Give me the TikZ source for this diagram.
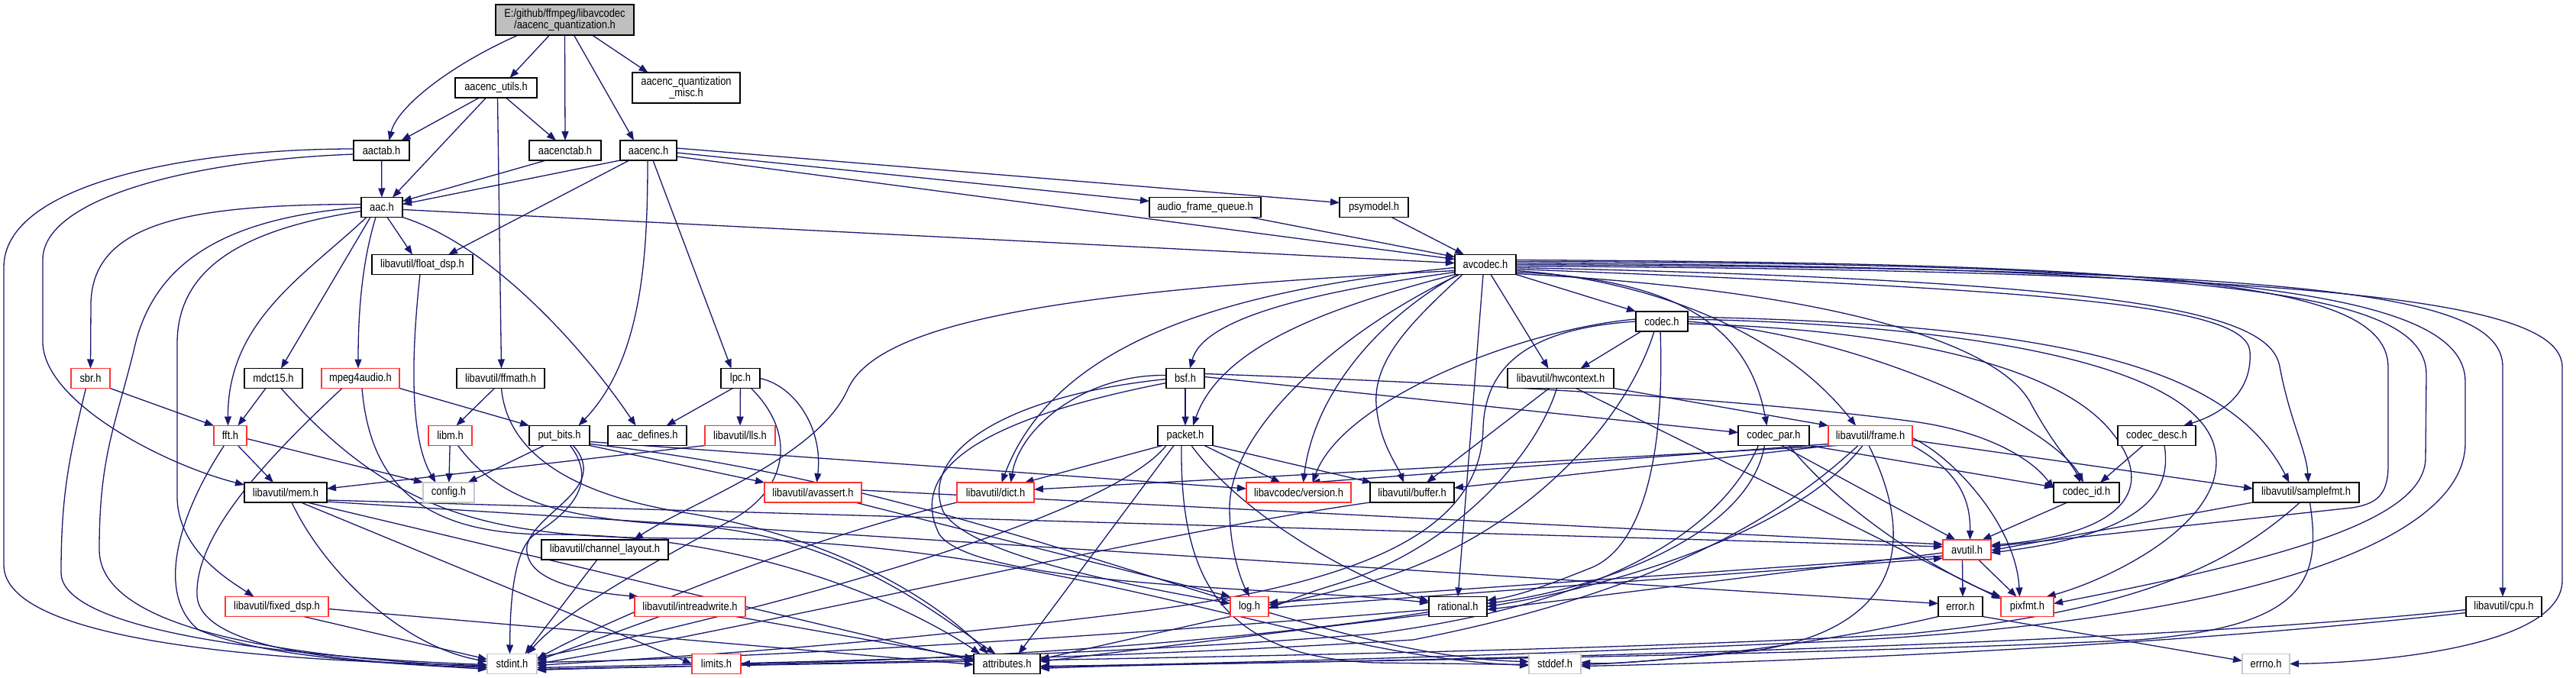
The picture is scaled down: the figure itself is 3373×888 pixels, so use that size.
\documentclass[tikz,border=0pt]{standalone}
\usepackage{fontspec}
\setmainfont{Liberation Sans}
\newfontfamily\narrowfont{Liberation Sans}[FakeStretch=0.86]
\usetikzlibrary{arrows.meta,backgrounds}
\definecolor{edgec}{HTML}{191970}
\definecolor{nred}{HTML}{FF3333}
\definecolor{ngray}{HTML}{C8C8C8}
\definecolor{rootg}{HTML}{BFBFBF}
\tikzset{
  nb/.style={rectangle, draw=black, line width=1.5pt, fill=white, minimum height=26pt, inner sep=0pt, outer sep=0pt, font=\narrowfont\fontsize{15pt}{15pt}\selectfont, text=black},
  nr/.style={nb, draw=nred},
  ng/.style={nb, draw=ngray},
  e/.style={draw=edgec, line width=1.3pt, -{Triangle[length=12pt,width=9pt]}}
}
\begin{document}
\begin{tikzpicture}[x=1pt,y=1pt]
\useasboundingbox (0,-888) rectangle (3373,0);
% nodes
\node[nb,minimum width=181pt,minimum height=40pt,fill=rootg,align=center] (root) at (739.5,-26) {E:/github/ffmpeg/libavcodec\\/aacenc\_quantization.h};
\node[nb,minimum width=107pt] (autils) at (649.5,-115) {aacenc\_utils.h};
\node[nb,minimum width=141pt,minimum height=40pt,align=center] (aqmisc) at (898.5,-115) {aacenc\_quantization\\\_misc.h};
\node[nb,minimum width=73pt] (aactab) at (499.5,-197) {aactab.h};
\node[nb,minimum width=94pt] (aenctab) at (740,-197) {aacenctab.h};
\node[nb,minimum width=74pt] (aacenc) at (849,-197) {aacenc.h};
\node[nb,minimum width=54pt] (aac) at (500,-271.5) {aac.h};
\node[nb,minimum width=146pt] (afq) at (1578,-271.5) {audio\_frame\_queue.h};
\node[nb,minimum width=90pt] (psy) at (1799,-271.5) {psymodel.h};
\node[nb,minimum width=132pt] (fdsp) at (553,-346.5) {libavutil/float\_dsp.h};
\node[nb,minimum width=80pt] (avc) at (1945,-346.5) {avcodec.h};
\node[nb,minimum width=68pt] (codec) at (2176,-421) {codec.h};
\node[nr,minimum width=51pt] (sbr) at (118.5,-495.5) {sbr.h};
\node[nb,minimum width=76pt] (mdct) at (358,-495.5) {mdct15.h};
\node[nr,minimum width=102pt] (mp4a) at (472,-495.5) {mpeg4audio.h};
\node[nb,minimum width=115pt] (ffmath) at (655.5,-495.5) {libavutil/ffmath.h};
\node[nb,minimum width=51pt] (lpc) at (969.5,-495.5) {lpc.h};
\node[nb,minimum width=50pt] (bsf) at (1552,-495.5) {bsf.h};
\node[nb,minimum width=139pt] (hwc) at (2043.5,-495.5) {libavutil/hwcontext.h};
\node[nr,minimum width=43pt] (fft) at (301.5,-570.5) {fft.h};
\node[nr,minimum width=57pt] (libm) at (589.5,-570.5) {libm.h};
\node[nb,minimum width=79pt] (pbits) at (732.5,-570.5) {put\_bits.h};
\node[nb,minimum width=103pt] (aacdef) at (847.5,-570.5) {aac\_defines.h};
\node[nr,minimum width=92pt] (lls) at (969,-570.5) {libavutil/lls.h};
\node[nb,minimum width=72pt] (packet) at (1552,-570.5) {packet.h};
\node[nb,minimum width=93pt] (cpar) at (2322.5,-570.5) {codec\_par.h};
\node[nr,minimum width=110pt] (frame) at (2449,-570.5) {libavutil/frame.h};
\node[nb,minimum width=102pt] (cdesc) at (2824,-570.5) {codec\_desc.h};
\node[nb,minimum width=108pt] (mem) at (374,-645) {libavutil/mem.h};
\node[ng,minimum width=67pt] (config) at (587.5,-645) {config.h};
\node[nr,minimum width=127pt] (avassert) at (1064.5,-645) {libavutil/avassert.h};
\node[nr,minimum width=101pt] (dict) at (1303.5,-645) {libavutil/dict.h};
\node[nr,minimum width=137pt] (version) at (1700.5,-645) {libavcodec/version.h};
\node[nb,minimum width=110pt] (buffer) at (1849,-645) {libavutil/buffer.h};
\node[nb,minimum width=86pt] (cid) at (2732,-645) {codec\_id.h};
\node[nb,minimum width=139pt] (sfmt) at (3019.5,-645) {libavutil/samplefmt.h};
\node[nb,minimum width=166pt] (chl) at (792,-720) {libavutil/channel\_layout.h};
\node[nr,minimum width=63pt] (avutil) at (2575.5,-720) {avutil.h};
\node[nr,minimum width=135pt] (fxdsp) at (362.5,-794.5) {libavutil/fixed\_dsp.h};
\node[nr,minimum width=145pt] (irw) at (903.5,-794.5) {libavutil/intreadwrite.h};
\node[nr,minimum width=50pt] (log) at (1636,-794.5) {log.h};
\node[nb,minimum width=76pt] (rational) at (1909,-794.5) {rational.h};
\node[nb,minimum width=58pt] (error) at (2567,-794.5) {error.h};
\node[nr,minimum width=69pt] (pixfmt) at (2654.5,-794.5) {pixfmt.h};
\node[nb,minimum width=99pt] (cpu) at (3278.5,-794.5) {libavutil/cpu.h};
\node[ng,minimum width=65pt] (stdint) at (670.5,-869.5) {stdint.h};
\node[nr,minimum width=64pt] (limits) at (938,-869.5) {limits.h};
\node[nb,minimum width=87pt] (attr) at (1318.5,-869.5) {attributes.h};
\node[ng,minimum width=68pt] (stddef) at (2036,-869.5) {stddef.h};
\node[ng,minimum width=62pt] (errno) at (2967,-869.5) {errno.h};

\begin{pgfonlayer}{background}
\fill[white] (0,-888) rectangle (3373,0);
% root
\draw[e] ([xshift=-61pt]root.south) .. controls (590,-85) and (520,-140) .. ([xshift=10pt]aactab.north);
\draw[e] ([xshift=-20pt]root.south) -- ([xshift=18pt]autils.north);
\draw[e] (root.south) -- (aenctab.north);
\draw[e] ([xshift=12pt]root.south) -- ([xshift=-19pt]aacenc.north);
\draw[e] ([xshift=36pt]root.south) -- ([xshift=-50pt]aqmisc.north);
% aacenc_utils
\draw[e] ([xshift=-22pt]autils.south) -- ([xshift=26pt]aactab.north);
\draw[e] ([xshift=-13pt]autils.south) -- ([xshift=14pt]aac.north);
\draw[e] ([xshift=13pt]autils.south) -- ([xshift=-12pt]aenctab.north);
\draw[e] ([xshift=2pt]autils.south) -- ([xshift=1pt]ffmath.north);
% aactab
\draw[e] (aactab) -- (aac);
\draw[e] ([yshift=2pt]aactab.west) .. controls (250,-195) and (5,-240) .. (5,-350) -- (5,-740) .. controls (5,-840) and (350,-866) .. ([yshift=-2pt]stdint.west);
\draw[e] ([yshift=-5pt]aactab.west) .. controls (250,-210) and (56,-260) .. (56,-340) -- (56,-450) .. controls (60,-530) and (220,-610) .. ([yshift=10pt]mem.west);
% aacenctab
\draw[e] ([xshift=-25pt]aenctab.south) -- ([yshift=8pt]aac.east);
% aacenc
\draw[e] (aacenc.south west) -- ([yshift=4pt]aac.east);
\draw[e] ([xshift=-25pt]aacenc.south) -- ([xshift=34pt]fdsp.north);
\draw[e] ([yshift=-3pt]aacenc.east) -- ([yshift=8pt]afq.west);
\draw[e] ([yshift=3pt]aacenc.east) -- ([yshift=6pt]psy.west);
\draw[e] ([yshift=-8pt]aacenc.east) -- ([yshift=7pt]avc.west);
\draw[e] ([xshift=6pt]aacenc.south) -- ([xshift=-12pt]lpc.north);
\draw[e] ([xshift=-1pt]aacenc.south) .. controls (848,-330) and (842,-470) .. ([xshift=25pt]pbits.north);
% aac
\draw[e] ([yshift=-3pt]aac.east) -- ([yshift=2pt]avc.west);
\draw[e] ([xshift=7pt]aac.south) -- ([xshift=-13pt]fdsp.north);
\draw[e] ([yshift=4pt]aac.west) .. controls (250,-268) and (119,-290) .. (119,-400) -- (sbr.north);
\draw[e] (aac.west) .. controls (300,-285) and (200,-340) .. (175,-460) .. controls (150,-560) and (130,-600) .. (130,-720) .. controls (130,-830) and (400,-862) .. ([yshift=-4pt]stdint.west);
\draw[e] ([yshift=-5pt]aac.west) .. controls (320,-300) and (232,-350) .. (232,-450) -- (232,-650) .. controls (232,-720) and (300,-760) .. ([xshift=-30pt]fxdsp.north);
\draw[e] ([xshift=-20pt]aac.south) .. controls (400,-360) and (298,-420) .. ([xshift=-3pt]fft.north);
\draw[e] ([xshift=-15pt]aac.south) -- ([xshift=10pt]mdct.north);
\draw[e] ([xshift=-8pt]aac.south) .. controls (472,-350) and (469,-420) .. ([xshift=-3pt]mp4a.north);
\draw[e] (aac.south east) .. controls (640,-320) and (760,-450) .. ([xshift=-15pt]aacdef.north);
% float_dsp
\draw[e] ([xshift=-3pt]fdsp.south) .. controls (540,-450) and (534,-570) .. ([xshift=-17pt]config.north);
% sbr
\draw[e] (sbr.south east) -- (fft.north west);
\draw[e] ([xshift=-6pt]sbr.south) .. controls (90,-600) and (80,-650) .. (80,-750) .. controls (80,-830) and (400,-862) .. ([yshift=-1pt]stdint.west);
% mdct15
\draw[e] ([xshift=-10pt]mdct.south) -- ([xshift=10pt]fft.north);
\draw[e] ([xshift=10pt]mdct.south) .. controls (520,-680) and (650,-705) .. (900,-705) .. controls (1400,-705) and (1700,-860) .. ([yshift=-2pt]stddef.west);
% mpeg4audio
\draw[e] (mp4a.south east) -- (pbits.north west);
\draw[e] ([xshift=-24pt]mp4a.south) .. controls (350,-600) and (255,-700) .. (258,-780) .. controls (262,-850) and (450,-868) .. ([yshift=-5pt]stdint.west);
\draw[e] ([xshift=2pt]mp4a.south) .. controls (485,-640) and (560,-700) .. (720,-700) .. controls (1000,-700) and (1200,-800) .. ([xshift=-35pt]attr.north);
% ffmath
\draw[e] ([xshift=-8pt]ffmath.south) -- ([xshift=8pt]libm.north);
\draw[e] ([xshift=1pt]ffmath.south) .. controls (665,-600) and (760,-650) .. (900,-672) .. controls (1100,-705) and (1230,-790) .. ([xshift=-25pt]attr.north);
% libm
\draw[e] (libm) -- (config);
\draw[e] ([xshift=10pt]libm.south) .. controls (650,-650) and (720,-680) .. (900,-688) .. controls (1100,-700) and (1220,-800) .. ([xshift=-15pt]attr.north);
% fft
\draw[e] ([yshift=-4pt]fft.east) -- (config.north west);
\draw[e] ([xshift=10pt]fft.south) -- ([xshift=-16pt]mem.north);
\draw[e] ([xshift=-8pt]fft.south) .. controls (230,-680) and (205,-780) .. (260,-825) .. controls (350,-862) and (500,-868) .. ([yshift=-7pt]stdint.west);
% put_bits
\draw[e] ([xshift=-20pt]pbits.south) -- ([xshift=25pt]config.north);
\draw[e] ([xshift=14pt]pbits.south) .. controls (790,-640) and (730,-680) .. (700,-700) .. controls (672,-720) and (668,-790) .. ([xshift=-3pt]stdint.north);
\draw[e] ([xshift=18pt]pbits.south) .. controls (800,-640) and (700,-670) .. (690,-715) .. controls (685,-760) and (760,-775) .. ([xshift=5pt]irw.north west);
\draw[e] (pbits.south east) -- (avassert.north west);
\draw[e] ([yshift=-8pt]pbits.east) -- ([yshift=5pt]version.west);
\draw[e] ([yshift=-11pt]pbits.east) .. controls (1300,-640) and (1700,-860) .. ([yshift=3pt]stddef.west);
% lpc
\draw[e] ([xshift=-10pt]lpc.south) -- ([xshift=25pt]aacdef.north);
\draw[e] (lpc) -- (lls);
\draw[e] (lpc.east) .. controls (1040,-505) and (1078,-560) .. ([xshift=5pt]avassert.north);
\draw[e] ([xshift=14pt]lpc.south) .. controls (1045,-570) and (1030,-640) .. (960,-680) .. controls (850,-740) and (740,-800) .. ([xshift=20pt]stdint.north);
% lls
\draw[e] (lls.south west) -- ([yshift=5pt]mem.east);
% mem
\draw[e] ([yshift=-10pt]mem.east) -- ([yshift=4pt]avutil.west);
\draw[e] ([yshift=-12pt]mem.east) -- ([yshift=4pt]error.west);
\draw[e] ([xshift=8pt]mem.south) .. controls (420,-740) and (520,-845) .. ([yshift=3pt]stdint.west);
\draw[e] ([xshift=20pt]mem.south) -- (limits.west);
\draw[e] ([xshift=28pt]mem.south) -- ([yshift=4pt]attr.west);
% avassert
\draw[e] ([yshift=3pt]avassert.east) -- ([yshift=7pt]avutil.west);
\draw[e] ([xshift=55pt]avassert.south) -- (log.north west);
% dict
\draw[e] (dict.south west) .. controls (1000,-720) and (760,-830) .. ([yshift=6pt]stdint.east);
% channel_layout
\draw[e] ([xshift=-10pt]chl.south) -- ([xshift=17pt]stdint.north);
% fixed_dsp
\draw[e] ([xshift=35pt]fxdsp.south) -- ([yshift=6pt]stdint.west);
\draw[e] ([yshift=-3pt]fxdsp.east) -- ([yshift=-1pt]attr.west);
% intreadwrite
\draw[e] ([xshift=-40pt]irw.south) -- ([yshift=4pt]stdint.east);
\draw[e] ([xshift=60pt]irw.south) -- ([yshift=7pt]attr.west);
% afq, psymodel
\draw[e] ([xshift=-14pt]afq.south east) -- ([yshift=10pt]avc.west);
\draw[e] ([xshift=23pt]psy.south) -- ([xshift=-28pt]avc.north);
% avcodec
\draw[e] (avc.south east) -- (codec.north west);
\draw[e] ([xshift=7pt]avc.south) -- ([xshift=-16pt]hwc.north);
\draw[e] ([xshift=-3pt]avc.south) -- (rational.north);
\draw[e] ([xshift=-30pt]avc.south) .. controls (1850,-420) and (1798,-470) .. (1802,-530) .. controls (1806,-580) and (1830,-610) .. ([xshift=-11pt]buffer.north);
\draw[e] ([xshift=-36pt]avc.south) .. controls (1800,-420) and (1720,-520) .. ([xshift=6pt]version.north);
\draw[e] ([yshift=-4pt]avc.west) .. controls (1600,-380) and (1380,-450) .. ([xshift=8pt]dict.north);
\draw[e] ([yshift=-8pt]avc.west) .. controls (1400,-380) and (1150,-420) .. (1110,-510) .. controls (1070,-600) and (900,-660) .. ([xshift=38pt]chl.north);
\draw[e] (avc.south west) .. controls (1750,-400) and (1600,-450) .. ([xshift=10pt]packet.north);
\draw[e] ([yshift=-10pt]avc.west) .. controls (1700,-385) and (1575,-420) .. ([xshift=6pt]bsf.north);
\draw[e] ([xshift=-34pt]avc.south) .. controls (1760,-430) and (1610,-560) .. (1610,-665) .. controls (1610,-720) and (1625,-760) .. (log.north);
\draw[e] ([yshift=4pt]avc.east) .. controls (2900,-345) and (3228,-380) .. (3228,-500) -- (3228,-580) .. controls (3228,-720) and (2900,-815) .. (2400,-840) .. controls (1900,-862) and (1600,-868) .. ([yshift=-4pt]attr.east);
\draw[e] ([yshift=6pt]avc.east) .. controls (2850,-345) and (3125,-370) .. (3127,-480) -- (3127,-610) .. controls (3127,-650) and (3110,-660) .. (3080,-665) -- ([yshift=4pt]avutil.east);
\draw[e] ([yshift=2pt]avc.east) .. controls (2900,-350) and (3176,-380) .. (3177,-490) -- (3176,-600) .. controls (3175,-680) and (3000,-730) .. ([yshift=4pt]pixfmt.east);
\draw[e] (avc.east) .. controls (3000,-352) and (3276,-380) .. (3277,-480) -- ([xshift=-1.5pt]cpu.north);
\draw[e] ([yshift=-2pt]avc.east) .. controls (3100,-355) and (3352,-400) .. (3355,-480) -- (3355,-760) .. controls (3355,-850) and (3100,-868) .. (errno.east);
\draw[e] ([yshift=-4pt]avc.east) .. controls (2800,-368) and (2972,-410) .. (2985,-480) .. controls (2998,-550) and (3020,-590) .. ([xshift=3pt]sfmt.north);
\draw[e] ([yshift=-6pt]avc.east) .. controls (2700,-380) and (2940,-400) .. (2946,-460) .. controls (2950,-520) and (2900,-545) .. ([xshift=35pt]cdesc.north);
\draw[e] ([yshift=-8pt]avc.east) .. controls (2150,-365) and (2330,-430) .. ([xshift=-19pt]frame.north);
\draw[e] ([yshift=-10pt]avc.east) .. controls (2200,-365) and (2290,-430) .. ([xshift=-9pt]cpar.north);
\draw[e] ([yshift=-12pt]avc.east) .. controls (2400,-380) and (2620,-450) .. (2660,-530) .. controls (2690,-585) and (2715,-610) .. ([xshift=-8pt]cid.north);
% codec
\draw[e] ([xshift=-27pt]codec.south) -- ([xshift=26pt]hwc.north);
\draw[e] ([yshift=3pt]codec.west) .. controls (2000,-430) and (1760,-520) .. ([xshift=18pt]version.north);
\draw[e] (codec.west) .. controls (2000,-430) and (1945,-480) .. (1942,-560) .. controls (1940,-690) and (1800,-760) .. (1500,-800) .. controls (1100,-850) and (850,-862) .. ([yshift=-2pt]stdint.east);
\draw[e] ([xshift=-10pt]codec.south) .. controls (2130,-550) and (2000,-700) .. (1800,-760) .. controls (1720,-782) and (1690,-788) .. ([yshift=2pt]log.east);
\draw[e] ([xshift=-2pt]codec.south) .. controls (2180,-600) and (2150,-720) .. (2080,-745) .. controls (2030,-765) and (1990,-780) .. ([yshift=8pt]rational.east);
\draw[e] ([yshift=-3pt]codec.east) .. controls (2450,-430) and (2680,-470) .. (2760,-560) .. controls (2830,-640) and (2780,-700) .. ([yshift=6pt]avutil.east);
\draw[e] ([yshift=3pt]codec.east) .. controls (2550,-425) and (2860,-470) .. (2898,-580) .. controls (2930,-680) and (2760,-760) .. ([xshift=25pt]pixfmt.north);
\draw[e] ([yshift=6pt]codec.east) .. controls (2700,-425) and (2920,-480) .. ([xshift=-22pt]sfmt.north);
\draw[e] (codec.east) .. controls (2450,-440) and (2690,-560) .. ([xshift=-4pt]cid.north);
% bsf
\draw[e] (bsf) -- (packet);
\draw[e] ([yshift=2pt]bsf.east) -- ([yshift=4pt]cpar.west);
\draw[e] ([yshift=6pt]bsf.east) .. controls (2000,-505) and (2300,-525) .. (2505,-552) .. controls (2600,-565) and (2660,-600) .. ([yshift=5pt]cid.west);
\draw[e] ([yshift=4pt]bsf.west) .. controls (1420,-490) and (1335,-560) .. ([xshift=20pt]dict.north);
\draw[e] ([yshift=-1pt]bsf.west) .. controls (1300,-520) and (1205,-600) .. (1235,-670) .. controls (1270,-730) and (1500,-770) .. ([yshift=4pt]log.west);
\draw[e] ([yshift=-6pt]bsf.west) .. controls (1330,-540) and (1180,-600) .. (1230,-700) .. controls (1280,-770) and (1700,-770) .. ([yshift=5pt]rational.west);
% packet
\draw[e] ([xshift=-30pt]packet.south) -- ([xshift=38pt]dict.north);
\draw[e] ([xshift=25pt]packet.south) -- ([xshift=-24pt]version.north);
\draw[e] (packet.south east) -- ([xshift=2pt]buffer.north west);
\draw[e] ([xshift=-15pt]packet.south) -- ([xshift=15pt]attr.north);
\draw[e] ([xshift=8pt]packet.south) .. controls (1630,-680) and (1780,-760) .. ([yshift=7pt]rational.west);
\draw[e] ([xshift=-25pt]packet.south) .. controls (1450,-680) and (1000,-800) .. ([yshift=8pt]stdint.east);
\draw[e] ([xshift=-5pt]packet.south) .. controls (1545,-760) and (1600,-860) .. (1800,-868) -- ([yshift=-1pt]stddef.west);
% codec_par
\draw[e] ([xshift=-20pt]cpar.south) .. controls (2250,-700) and (2100,-790) .. (1800,-830) .. controls (1400,-862) and (1000,-868) .. ([yshift=-5pt]stdint.east);
\draw[e] ([xshift=10pt]cpar.south) -- ([xshift=-15pt]avutil.north);
\draw[e] ([xshift=-12pt]cpar.south) .. controls (2290,-700) and (2100,-770) .. ([yshift=4pt]rational.east);
\draw[e] ([xshift=20pt]cpar.south) .. controls (2420,-680) and (2560,-760) .. (pixfmt.north west);
\draw[e] (cpar.south east) -- ([yshift=7pt]cid.west);
% frame
\draw[e] ([xshift=4pt]frame.south west) -- ([yshift=6pt]buffer.east);
\draw[e] ([yshift=-11pt]frame.west) -- ([xshift=16pt]version.north);
\draw[e] ([xshift=12pt]frame.south west) -- ([yshift=4pt]dict.east);
\draw[e] ([xshift=-10pt]frame.south) .. controls (2350,-700) and (2100,-770) .. (rational.east);
\draw[e] ([xshift=-2pt]frame.south) .. controls (2505,-700) and (2500,-820) .. (2300,-852) .. controls (2150,-868) and (2100,-870) .. ([yshift=2pt]stddef.east);
\draw[e] ([xshift=-16pt]frame.south) .. controls (2350,-660) and (2200,-770) .. (1850,-838) .. controls (1400,-866) and (1000,-870) .. ([yshift=-7pt]stdint.east);
\draw[e] (frame.south east) .. controls (2570,-620) and (2580,-660) .. ([xshift=4pt]avutil.north);
\draw[e] ([yshift=-3pt]frame.east) .. controls (2560,-600) and (2640,-690) .. ([xshift=-10pt]pixfmt.north);
\draw[e] ([yshift=-6pt]frame.east) -- ([yshift=5pt]sfmt.west);
% hwcontext
\draw[e] ([xshift=-15pt]hwc.south) -- ([xshift=19pt]buffer.north);
\draw[e] (hwc.south east) -- (frame.north west);
\draw[e] ([xshift=-5pt]hwc.south) .. controls (2010,-600) and (1900,-720) .. (1750,-765) .. controls (1700,-780) and (1680,-790) .. ([yshift=-2pt]log.east);
\draw[e] ([xshift=20pt]hwc.south) -- ([yshift=-3pt]pixfmt.north west);
% codec_desc, codec_id
\draw[e] ([xshift=-18pt]cdesc.south) -- ([xshift=18pt]cid.north);
\draw[e] ([xshift=10pt]cdesc.south) .. controls (2845,-650) and (2800,-700) .. ([yshift=-4pt]avutil.east);
\draw[e] ([xshift=-25pt]cid.south) -- ([xshift=20pt]avutil.north);
% samplefmt
\draw[e] (sfmt.south west) -- ([yshift=-1pt]avutil.east);
\draw[e] ([xshift=-8pt]sfmt.south) .. controls (2920,-740) and (2800,-800) .. (2500,-830) .. controls (2000,-860) and (1000,-868) .. ([yshift=-8pt]stdint.east);
\draw[e] ([xshift=5pt]sfmt.south) .. controls (3040,-760) and (3020,-820) .. (2800,-838) .. controls (2300,-862) and (1600,-866) .. ([yshift=-6pt]attr.east);
% avutil
\draw[e] ([xshift=-6pt]avutil.south) -- ([xshift=3pt]error.north);
\draw[e] ([xshift=15pt]avutil.south) -- ([xshift=-14pt]pixfmt.north);
\draw[e] ([yshift=-4pt]avutil.west) -- ([yshift=-4pt]rational.east);
\draw[e] ([yshift=-8pt]avutil.west) -- ([yshift=5pt]log.east);
% log
\draw[e] ([yshift=-2pt]log.east) -- ([yshift=-11pt]avutil.west);
\draw[e] (log.south west) -- ([yshift=6pt]attr.east);
% rational
\draw[e] ([yshift=-4pt]rational.west) .. controls (1500,-830) and (1000,-862) .. ([yshift=2pt]stdint.east);
\draw[e] ([yshift=-7pt]rational.west) .. controls (1600,-845) and (1200,-866) .. (limits.east);
\draw[e] ([yshift=-10pt]rational.west) -- ([yshift=3pt]attr.east);
% error
\draw[e] (error.south east) -- ([yshift=4pt]errno.west);
\draw[e] (error.south west) .. controls (2400,-840) and (2200,-866) .. ([yshift=-1pt]stddef.east);
% cpu
\draw[e] ([yshift=-4pt]cpu.west) .. controls (2800,-845) and (1900,-866) .. ([yshift=-3pt]attr.east);
\draw[e] ([yshift=-8pt]cpu.west) .. controls (2800,-850) and (2300,-868) .. ([yshift=-3pt]stddef.east);
% buffer
\draw[e] (buffer.south west) .. controls (1500,-700) and (1000,-820) .. (stdint.east);
\end{pgfonlayer}
\end{tikzpicture}
\end{document}
